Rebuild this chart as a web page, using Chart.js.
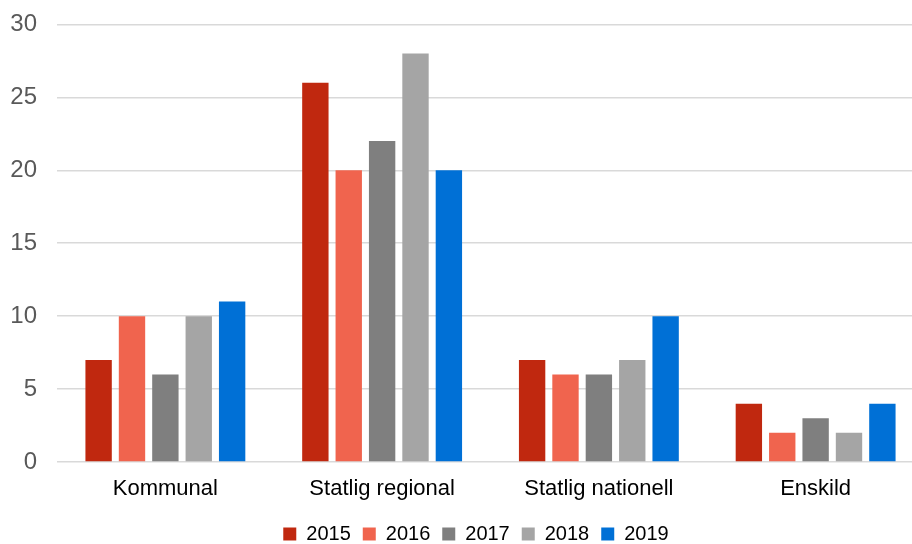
<!DOCTYPE html>
<html>
<head>
<meta charset="utf-8">
<script src="https://cdn.jsdelivr.net/npm/chart.js@4"></script>
<style>
  html, body { margin: 0; padding: 0; background: #fff; overflow: hidden; }
  #wrap { width: 924px; height: 564px; margin-top: -10px; }
</style>
</head>
<body>
<div id="wrap"><canvas id="chart" width="924" height="564"></canvas></div>
<script>
// === DATA ===
const categories = ["Kommunal", "Statlig regional", "Statlig nationell", "Enskild"];
const years = ["2015", "2016", "2017", "2018", "2019"];
const values2015 = [7, 26, 7, 4];
const values2016 = [10, 20, 6, 2];
const values2017 = [6, 22, 6, 3];
const values2018 = [10, 28, 7, 2];
const values2019 = [11, 20, 10, 4];
const yTicks = [0, 5, 10, 15, 20, 25, 30];

const colors = ["#C0280F", "#F0644E", "#7F7F7F", "#A5A5A5", "#0070D6"];
const series = [values2015, values2016, values2017, values2018, values2019];

// nudge the legend a bit to the right, like the original
const legendShift = {
    id: "legendShift",
    afterLayout(chart) {
        chart.legend.left += 14;
        chart.legend.right += 14;
    }
};

const ctx = document.getElementById("chart").getContext("2d");

new Chart(ctx, {
    type: "bar",
    data: {
        labels: categories,
        datasets: years.map((y, i) => ({
            label: y,
            data: series[i],
            backgroundColor: colors[i],
            borderWidth: 0,
            categoryPercentage: 0.77,
            barPercentage: 0.79
        }))
    },
    options: {
        responsive: false,
        animation: false,
        layout: { padding: { top: 12, left: 0, right: 0, bottom: 0 } },
        plugins: {
            tooltip: { enabled: false },
            legend: {
                position: "bottom",
                labels: {
                    boxWidth: 13,
                    boxHeight: 13,
                    padding: 12,
                    color: "#000",
                    font: { family: "Liberation Sans", size: 20 }
                }
            }
        },
        scales: {
            x: {
                grid: { display: false },
                border: { display: false },
                ticks: {
                    color: "#000",
                    padding: 6,
                    font: { family: "Liberation Sans", size: 22 }
                },
                afterFit: s => { s.height = 50; }
            },
            y: {
                min: 0,
                max: 30,
                afterBuildTicks: s => { s.ticks = yTicks.map(v => ({ value: v })); },
                grid: { color: "#D9D9D9", lineWidth: 1.5, drawTicks: false },
                border: { display: false },
                ticks: {
                    color: "#595959",
                    padding: 20,
                    font: { family: "Liberation Sans", size: 24 }
                },
                afterFit: s => { s.width = 57; }
            }
        }
    },
    plugins: [legendShift]
});
</script>
</body>
</html>
